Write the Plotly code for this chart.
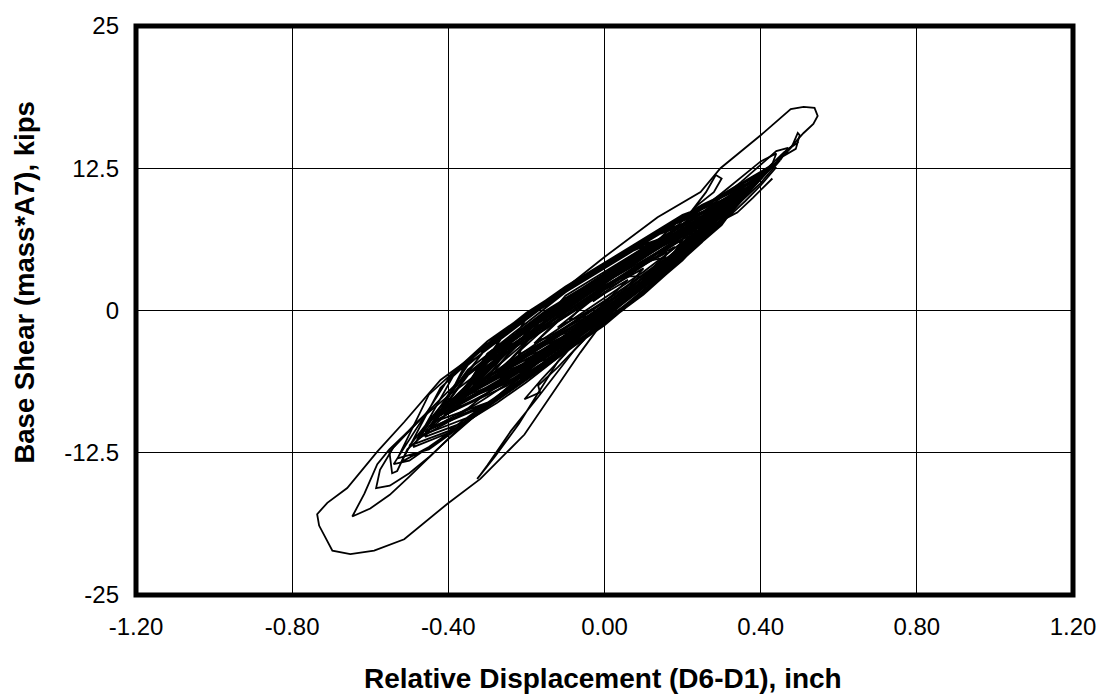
import plotly.graph_objects as go

# ---------------- data ----------------
# Early, small cycles building up from rest
early_disp = [0.00, 0.05, 0.09, 0.05, 0.00, -0.05, -0.09, -0.04, 0.02, 0.08, 0.15,
              0.10, 0.03, -0.04, -0.12, -0.17, -0.10, -0.02, 0.07, 0.16, 0.23,
              0.17, 0.08, -0.02, -0.12, -0.22, -0.28, -0.20, -0.10, 0.00, 0.10, 0.20, 0.30, 0.34]
early_shear = [0.0, 1.6, 3.0, 3.0, 1.9, 0.6, -0.8, -0.5, 0.6, 2.0, 4.6,
               4.3, 2.6, 0.9, -1.0, -2.6, -2.0, -0.2, 1.9, 4.3, 6.8,
               6.3, 4.6, 2.2, -0.1, -2.6, -5.3, -4.9, -2.6, -0.3, 2.4, 5.0, 8.0, 9.8]

# Largest excursion (outer loop)
large_disp = [0.34, 0.40, 0.46, 0.51, 0.535, 0.546, 0.538, 0.51, 0.477, 0.40, 0.297, 0.246, 0.136,
              0.00, -0.172, -0.30, -0.42, -0.513, -0.582, -0.659, -0.71, -0.736, -0.731, -0.697, -0.651,
              -0.59, -0.513, -0.403, -0.318, -0.205, -0.062, 0.00, 0.10, 0.20, 0.30, 0.40, 0.45]
large_shear = [9.8, 11.6, 13.7, 15.6, 16.4, 17.1, 17.8, 17.9, 17.7, 15.4, 12.5, 10.4, 8.2,
               4.7, 0.0, -3.1, -6.1, -9.8, -12.4, -15.6, -16.9, -17.9, -18.9, -21.1, -21.4,
               -21.1, -20.1, -17.0, -14.8, -10.9, -3.7, -0.8, 2.3, 5.2, 8.0, 11.2, 13.2]

# Second large negative excursion
second_disp = [0.45, 0.47, 0.44, 0.35, 0.25, 0.12, 0.00, -0.12, -0.25, -0.35, -0.403, -0.446, -0.505,
               -0.551, -0.582, -0.615, -0.646, -0.60, -0.55, -0.50, -0.44, -0.38, -0.30, -0.20, -0.10,
               0.00, 0.10, 0.20, 0.30, 0.38, 0.43]
second_shear = [13.2, 14.3, 14.0, 11.3, 8.6, 5.3, 2.6, -0.3, -3.3, -5.6, -7.2, -8.7, -10.7,
                -12.2, -13.5, -16.1, -18.1, -17.4, -16.2, -14.6, -12.6, -10.6, -8.3, -5.3, -2.5,
                0.0, 2.6, 5.4, 8.2, 10.9, 12.9]

# Third negative excursion
third_disp = [0.43, 0.44, 0.40, 0.30, 0.20, 0.10, 0.00, -0.10, -0.20, -0.30, -0.40, -0.48, -0.54,
              -0.575, -0.585, -0.55, -0.50, -0.45, -0.40, -0.33, -0.25, -0.15, -0.05, 0.05, 0.15,
              0.25, 0.33]
third_shear = [12.9, 13.8, 13.1, 10.3, 7.6, 4.9, 2.4, 0.0, -2.4, -4.9, -7.5, -9.8, -12.0,
               -14.0, -15.6, -15.4, -14.3, -12.9, -11.3, -9.2, -6.9, -4.0, -1.3, 1.5, 4.2,
               7.0, 9.5]

# Wider cycles forming the outer part of the dense band
wide_disp = [0.33,
             0.34, 0.20, 0.00, -0.20, -0.35, -0.47, -0.35, -0.20, 0.00, 0.20,
             0.39, 0.25, 0.05, -0.15, -0.30, -0.50, -0.40, -0.25, -0.05, 0.15, 0.30,
             0.43, 0.30, 0.10, -0.10, -0.30, -0.42, -0.52, -0.45, -0.30, -0.10, 0.10, 0.25,
             0.31, 0.15, -0.05, -0.25, -0.41, -0.25, -0.05, 0.15,
             0.36, 0.20, 0.00, -0.20, -0.38, -0.49, -0.38, -0.20, 0.00, 0.20,
             0.27, 0.10, -0.10, -0.30, -0.38, -0.20, 0.00, 0.15,
             0.33, 0.15, -0.05, -0.25, -0.40, -0.54, -0.50, -0.40, -0.25, -0.05, 0.15, 0.30,
             0.40, 0.25, 0.05, -0.15, -0.35, -0.44, -0.30, -0.10, 0.10, 0.25,
             0.30, 0.10, -0.10, -0.30, -0.46, -0.35, -0.15, 0.05, 0.20,
             0.35, 0.20, 0.00, -0.20, -0.35, -0.43, -0.30, -0.10, 0.10, 0.25,
             0.42, 0.30, 0.10, -0.10, -0.30, -0.45, -0.53, -0.45, -0.30, -0.10, 0.10, 0.30,
             0.37, 0.15, -0.05, -0.25, -0.36, -0.20, 0.00, 0.20,
             0.29, 0.05, -0.15, -0.35, -0.45, -0.30, -0.10, 0.10, 0.20,
             0.32, 0.15, -0.05, -0.20, -0.30, -0.15, 0.05, 0.20,
             0.26, 0.10, -0.10, -0.24, -0.10, 0.05, 0.12]
wide_shear = [9.5,
              9.9, 8.0, 3.8, -0.5, -4.8, -11.0, -9.4, -5.7, -1.1, 4.4,
              11.4, 9.1, 4.8, 0.6, -3.2, -11.9, -10.6, -6.9, -2.35, 3.0, 7.6,
              12.8, 10.2, 6.0, 1.8, -3.0, -6.8, -13.3, -12.0, -8.4, -3.5, 1.6, 6.0,
              9.0, 7.0, 2.75, -1.8, -9.2, -6.6, -2.25, 3.1,
              10.5, 8.2, 4.1, -0.3, -5.3, -12.0, -10.5, -6.0, -1.3, 4.5,
              7.8, 5.8, 1.6, -3.8, -8.1, -5.7, -1.2, 3.2,
              9.6, 7.2, 3.05, -1.6, -6.0, -13.5, -13.2, -10.8, -7.1, -2.45, 3.1, 7.6,
              11.7, 9.3, 5.1, 0.8, -4.4, -10.2, -8.2, -3.7, 1.4, 6.0,
              8.7, 6.2, 2.0, -3.0, -11.1, -9.7, -4.9, 0.1, 4.6,
              10.3, 8.4, 4.2, -0.2, -4.3, -9.7, -8.1, -3.5, 1.6, 6.1,
              12.4, 10.1, 6.3, 2.1, -2.7, -7.4, -13.0, -12.2, -8.5, -3.6, 1.6, 7.5,
              10.8, 7.3, 2.95, -1.7, -7.5, -5.6, -1.0, 4.6,
              8.4, 4.9, 0.5, -4.7, -10.5, -8.3, -3.7, 1.5, 4.4,
              9.3, 6.9, 2.75, -0.7, -6.0, -4.3, 0.4, 4.7,
              7.6, 5.5, 1.3, -4.4, -2.9, 0.9, 3.1]

# Dense band of moderate cycles
band_disp = [0.12,
             0.36, 0.20, 0.00, -0.20, -0.42, -0.25, -0.05, 0.15,
             0.30, 0.25, 0.05, -0.15, -0.38, -0.30, -0.10, 0.10,
             0.42, 0.30, 0.15, -0.05, -0.25, -0.45, -0.35, -0.20, 0.00, 0.20,
             0.26, 0.10, -0.10, -0.30, -0.33, -0.15, 0.05,
             0.33, 0.20, 0.00, -0.20, -0.40, -0.25, -0.05, 0.15, 0.30,
             0.44, 0.35, 0.25, 0.05, -0.15, -0.35, -0.48, -0.40, -0.30, -0.10, 0.10,
             0.28, 0.15, -0.05, -0.25, -0.36, -0.20, 0.00, 0.20,
             0.38, 0.30, 0.10, -0.10, -0.30, -0.34, -0.15, 0.05, 0.25,
             0.31, 0.20, 0.00, -0.20, -0.35, -0.44, -0.25, -0.05, 0.15, 0.30,
             0.40, 0.25, 0.05, -0.15, -0.30, -0.41, -0.30, -0.10, 0.10,
             0.22, 0.15, -0.05, -0.25, -0.35, -0.20, 0.00, 0.20,
             0.35, 0.30, 0.10, -0.10, -0.30, -0.39, -0.30, -0.15, 0.05, 0.25,
             0.27, 0.20, 0.00, -0.20, -0.35, -0.46, -0.35, -0.25, -0.05, 0.15, 0.30,
             0.41, 0.25, 0.05, -0.15, -0.32, -0.10, 0.10,
             0.24, 0.15, -0.05, -0.27, -0.20, 0.00, 0.20,
             0.32, 0.10, -0.10, -0.30, -0.37, -0.15, 0.05, 0.25,
             0.37, 0.20, 0.00, -0.20, -0.35, -0.43, -0.25, -0.05, 0.15,
             0.20, 0.05, -0.15, -0.25, -0.10, 0.10,
             0.29, 0.15, -0.05, -0.25, -0.34, -0.20, 0.00, 0.20,
             0.25, 0.10, -0.10, -0.30, -0.40, -0.30, -0.15, 0.05,
             0.18, 0.00, -0.20, -0.22, -0.05, 0.15,
             0.16, 0.05, -0.10, -0.18, -0.05, 0.05,
             0.10, 0.00, -0.12, 0.00, 0.06, 0.00, -0.03]
band_shear = [3.1,
              10.6, 7.0, 3.0, -1.5, -9.1, -5.9, -1.65, 3.5,
              8.8, 7.9, 3.9, -0.3, -8.2, -6.7, -2.8, 2.0,
              12.5, 9.4, 6.1, 2.05, -2.7, -10.2, -7.8, -5.1, -0.7, 4.8,
              7.6, 5.1, 1.0, -4.2, -6.7, -3.7, 0.8,
              9.6, 7.1, 3.2, -1.3, -8.7, -6.1, -1.85, 3.4, 7.8,
              13.0, 10.8, 8.5, 4.2, 0.0, -5.2, -11.3, -9.8, -7.6, -3.0, 2.1,
              8.2, 6.2, 1.85, -3.1, -7.6, -4.6, -0.3, 5.0,
              11.1, 9.6, 5.4, 0.8, -4.4, -6.8, -3.4, 1.1, 6.4,
              9.0, 6.9, 2.7, -1.7, -5.7, -9.8, -6.3, -1.95, 3.3, 7.7,
              11.8, 8.6, 4.4, -0.1, -4.1, -9.1, -7.3, -2.6, 2.4,
              6.6, 5.4, 1.45, -3.4, -7.1, -4.8, -0.4, 4.9,
              10.2, 9.2, 5.2, 1.1, -3.8, -8.6, -6.9, -3.9, 0.9, 6.3,
              7.9, 6.7, 2.6, -1.8, -5.6, -10.7, -8.6, -5.8, -1.55, 3.6, 7.8,
              12.1, 8.3, 4.0, -0.5, -6.5, -2.4, 2.3,
              7.1, 5.7, 1.65, -5.2, -4.3, 0.0, 5.1,
              9.4, 5.0, 0.6, -4.3, -7.7, -3.6, 1.2, 6.6,
              10.9, 7.2, 2.9, -1.4, -5.5, -9.4, -6.0, -1.45, 3.7,
              6.2, 3.5, -1.0, -4.6, -2.2, 2.6,
              8.5, 5.8, 1.35, -3.3, -7.1, -4.5, -0.1, 5.2,
              7.4, 4.8, 0.3, -4.6, -8.5, -6.8, -3.3, 1.4,
              5.6, 2.2, -2.5, -3.9, -0.85, 4.2,
              5.1, 3.1, -0.2, -2.9, -0.65, 1.8,
              3.7, 1.8, -1.5, 0.7, 2.7, 1.5, 0.8]

# Narrow cycles filling the core of the band
core_disp = [-0.03,
             0.38, 0.20, 0.00, -0.20, -0.43, -0.20, 0.00, 0.20,
             0.34, 0.15, -0.05, -0.25, -0.40, -0.25, -0.05, 0.15,
             0.41, 0.25, 0.05, -0.15, -0.30, -0.45, -0.30, -0.10, 0.10, 0.30,
             0.36, 0.10, -0.10, -0.30, -0.38, -0.15, 0.05, 0.25,
             0.32, 0.20, 0.00, -0.20, -0.42, -0.30, -0.10, 0.10, 0.28]
core_shear = [0.8,
              11.2, 6.6, 2.1, -2.3, -9.0, -4.0, 0.4, 5.4,
              9.9, 5.3, 0.95, -3.5, -8.4, -5.0, -0.45, 4.3,
              12.0, 7.8, 3.0, -1.5, -4.8, -9.8, -6.3, -1.9, 2.9, 8.2,
              10.5, 4.6, 0.2, -4.5, -7.7, -2.6, 2.0, 6.8,
              9.3, 6.3, 1.6, -2.7, -9.2, -5.8, -1.2, 3.4, 8.1]

# Short excursions (spikes) off the main band; None separates pieces
spike_disp = [-0.05, -0.12, -0.22, -0.28, -0.326, -0.30, -0.24, -0.17, -0.08, 0.00, None,
              -0.05, -0.10, -0.16, -0.205, -0.165, -0.17, -0.12, -0.05, None,
              0.12, 0.17, 0.205, 0.22, 0.26, 0.285, 0.30, 0.28, 0.24, 0.20, 0.15, None,
              0.38, 0.42, 0.45, 0.48, 0.495, 0.50, 0.49, 0.46, 0.44, 0.47, 0.497, 0.49, 0.46, 0.42, 0.38, None,
              0.44, 0.40, 0.36, 0.323, 0.30, 0.34, 0.38, 0.43, None,
              -0.45, -0.50, -0.551, -0.544, -0.531, -0.505, -0.46, -0.40, None,
              -0.36, -0.275, -0.20, -0.12, -0.05, 0.00, 0.06]
spike_shear = [-1.8, -4.5, -10.0, -12.8, -14.8, -13.6, -10.6, -7.6, -3.6, -0.6, None,
               -1.6, -3.8, -6.0, -7.8, -7.2, -6.6, -5.0, -2.5, None,
               5.6, 7.2, 8.4, 8.6, 10.4, 11.9, 11.6, 10.4, 9.3, 7.9, 6.2, None,
               11.0, 12.4, 13.3, 14.4, 15.6, 15.4, 14.2, 13.6, 13.2, 14.2, 14.8, 14.6, 13.9, 12.6, 11.4, None,
               12.6, 11.0, 9.6, 8.4, 7.9, 8.6, 9.9, 11.6, None,
               -8.8, -10.6, -12.4, -14.3, -14.1, -12.2, -10.8, -9.0, None,
               -9.9, -8.1, -6.3, -4.2, -2.3, -0.5, 1.2]

x_ticks = [-1.20, -0.80, -0.40, 0.00, 0.40, 0.80, 1.20]
x_tick_text = ["-1.20", "-0.80", "-0.40", "0.00", "0.40", "0.80", "1.20"]
y_ticks = [-25, -12.5, 0, 12.5, 25]
y_tick_text = ["-25", "-12.5", "0", "12.5", "25"]

x_title = "Relative Displacement (D6-D1), inch"
y_title = "Base Shear (mass*A7), kips"

# ---------------- figure ----------------
groups = [(early_disp, early_shear), (large_disp, large_shear), (second_disp, second_shear),
          (third_disp, third_shear), (wide_disp, wide_shear), (band_disp, band_shear),
          (core_disp, core_shear), (spike_disp, spike_shear)]

fig = go.Figure()
for gx, gy in groups:
    assert len(gx) == len(gy), (len(gx), len(gy))
    fig.add_trace(go.Scatter(x=gx, y=gy, mode="lines",
                             line=dict(color="black", width=1.8),
                             connectgaps=False, showlegend=False, hoverinfo="skip"))

FONT = "Liberation Sans, Arial, sans-serif"

fig.update_layout(
    width=1108, height=697,
    margin=dict(l=136, r=32, t=19, b=102, pad=0),
    paper_bgcolor="white", plot_bgcolor="white",
    font=dict(family=FONT, color="black", size=24),
    showlegend=False,
    xaxis=dict(range=[-1.2, 1.2], tickvals=x_ticks, ticktext=x_tick_text,
               showgrid=True, gridcolor="black", gridwidth=1, zeroline=False,
               showline=False, ticks="", ticklabelstandoff=15,
               tickfont=dict(family=FONT, size=24, color="black")),
    yaxis=dict(range=[-25, 25], tickvals=y_ticks, ticktext=y_tick_text,
               showgrid=True, gridcolor="black", gridwidth=1, zeroline=False,
               showline=False, ticks="", ticklabelstandoff=16,
               tickfont=dict(family=FONT, size=24, color="black")),
    shapes=[dict(type="rect", xref="paper", yref="paper", x0=0, y0=0, x1=1, y1=1,
                 line=dict(color="black", width=5), layer="above")],
    annotations=[
        dict(text="<b>" + x_title + "</b>", xref="paper", yref="paper",
             x=0.498, y=-0.1476, xanchor="center", yanchor="middle", showarrow=False,
             font=dict(family=FONT, size=28, color="black")),
        dict(text="<b>" + y_title + "</b>", xref="paper", yref="paper",
             x=-0.119, y=0.55, xanchor="center", yanchor="middle", showarrow=False,
             textangle=-90, font=dict(family=FONT, size=27.5, color="black")),
    ],
)

fig.write_html("out.html")
